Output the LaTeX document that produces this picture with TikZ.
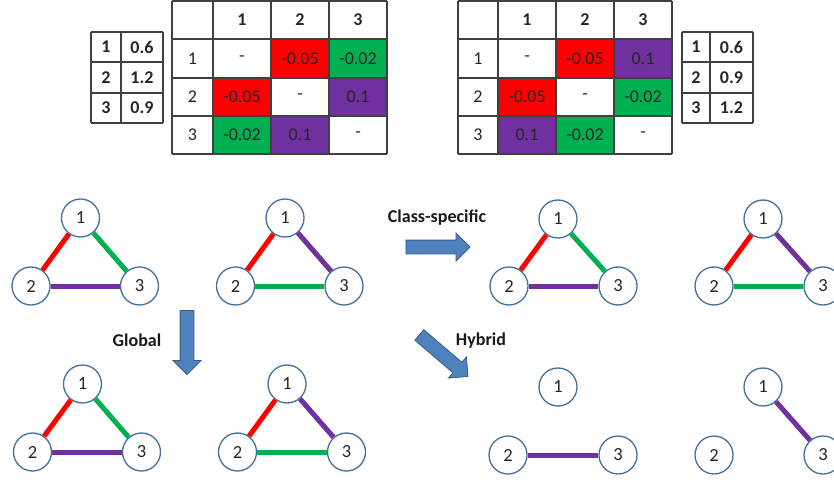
\documentclass[tikz,border=0pt]{standalone}
\usepackage{fontspec}
\setmainfont{Carlito}
\usetikzlibrary{shapes.arrows}
\definecolor{cred}{HTML}{FF0000}
\definecolor{cgreen}{HTML}{00B050}
\definecolor{cpurple}{HTML}{7030A0}
\definecolor{nodeblue}{HTML}{41719C}
\definecolor{arrowfill}{HTML}{4F81BD}
\definecolor{arrowline}{HTML}{385D8A}
\definecolor{gridc}{HTML}{404040}
\begin{document}
\begin{tikzpicture}[x=1pt,y=-1pt,
  vert/.style={circle,draw=nodeblue,line width=1.3pt,fill=white,minimum size=38pt,inner sep=0pt,font=\fontsize{18.5}{20}\selectfont,text=black!85},
  eR/.style={cred,line width=5pt},
  eG/.style={cgreen,line width=5pt},
  eP/.style={cpurple,line width=5pt},
  gridline/.style={gridc,line width=1.2pt},
  cell/.style={inner sep=0pt,font=\fontsize{18}{20}\selectfont,text=black!85},
  hcell/.style={inner sep=0pt,font=\fontsize{18}{20}\selectfont\bfseries,text=black!85},
  blockarrow/.style={single arrow,draw=arrowline,fill=arrowfill,line width=0.8pt,inner xsep=0pt,inner ysep=6.5pt,single arrow head extend=7pt,minimum height=64pt},
  lbl/.style={inner sep=0pt,font=\fontsize{18}{20}\selectfont\bfseries,text=black!90}
]
\clip (0,0) rectangle (834,481);
\fill[white] (0,0) rectangle (834,481);

% ---------- left matrix ----------
\fill[cred] (271,39) rectangle (329,78);
\fill[cgreen] (329,39) rectangle (387,78);
\fill[cred] (213,78) rectangle (271,116);
\fill[cpurple] (329,78) rectangle (387,116);
\fill[cgreen] (213,116) rectangle (271,154);
\fill[cpurple] (271,116) rectangle (329,154);
\foreach \xx in {172,213,271,329,387} \draw[gridline] (\xx,1) -- (\xx,154);
\foreach \yy in {1,39,78,116,154} \draw[gridline] (172,\yy) -- (387,\yy);

\node[hcell] (LH1) at (242,20) {1};
\node[hcell] (LH2) at (300,20) {2};
\node[hcell] (LH3) at (358,20) {3};
\node[cell] (LR1) at (192.5,58.5) {1};
\node[cell] (LR2) at (192.5,97) {2};
\node[cell] (LR3) at (192.5,135) {3};
\node[cell] (L11) at (242,58.5) {-};
\node[cell] (L12) at (300,58.5) {-0.05};
\node[cell] (L13) at (358,58.5) {-0.02};
\node[cell] (L21) at (242,97) {-0.05};
\node[cell] (L22) at (300,97) {-};
\node[cell] (L23) at (358,97) {0.1};
\node[cell] (L31) at (242,135) {-0.02};
\node[cell] (L32) at (300,135) {0.1};
\node[cell] (L33) at (358,135) {-};

% ---------- right matrix ----------
\fill[cred] (556,39) rectangle (614,78);
\fill[cpurple] (614,39) rectangle (672,78);
\fill[cred] (498,78) rectangle (556,116);
\fill[cgreen] (614,78) rectangle (672,116);
\fill[cpurple] (498,116) rectangle (556,154);
\fill[cgreen] (556,116) rectangle (614,154);
\foreach \xx in {458,498,556,614,672} \draw[gridline] (\xx,1) -- (\xx,154);
\foreach \yy in {1,39,78,116,154} \draw[gridline] (458,\yy) -- (672,\yy);

\node[hcell] (RH1) at (527,20) {1};
\node[hcell] (RH2) at (585,20) {2};
\node[hcell] (RH3) at (643,20) {3};
\node[cell] (RR1) at (478,58.5) {1};
\node[cell] (RR2) at (478,97) {2};
\node[cell] (RR3) at (478,135) {3};
\node[cell] (R11) at (527,58.5) {-};
\node[cell] (R12) at (585,58.5) {-0.05};
\node[cell] (R13) at (643,58.5) {0.1};
\node[cell] (R21) at (527,97) {-0.05};
\node[cell] (R22) at (585,97) {-};
\node[cell] (R23) at (643,97) {-0.02};
\node[cell] (R31) at (527,135) {0.1};
\node[cell] (R32) at (585,135) {-0.02};
\node[cell] (R33) at (643,135) {-};

% ---------- small tables ----------
\foreach \xx in {91,121,163} \draw[gridline] (\xx,32) -- (\xx,123);
\foreach \yy in {32,62,93,123} \draw[gridline] (91,\yy) -- (163,\yy);
\node[hcell] (SLa1) at (106,47) {1};
\node[hcell] (SLa2) at (106,77.5) {2};
\node[hcell] (SLa3) at (106,108) {3};
\node[hcell] (SLb1) at (142,47) {0.6};
\node[hcell] (SLb2) at (142,77.5) {1.2};
\node[hcell] (SLb3) at (142,108) {0.9};

\foreach \xx in {682,710,753} \draw[gridline] (\xx,32) -- (\xx,123);
\foreach \yy in {32,62,93,123} \draw[gridline] (682,\yy) -- (753,\yy);
\node[hcell] (SRa1) at (696,47) {1};
\node[hcell] (SRa2) at (696,77.5) {2};
\node[hcell] (SRa3) at (696,108) {3};
\node[hcell] (SRb1) at (731.5,47) {0.6};
\node[hcell] (SRb2) at (731.5,77.5) {0.9};
\node[hcell] (SRb3) at (731.5,108) {1.2};

% ---------- graphs, top row ----------
\node[vert] (a1) at (80.5,218) {1};
\node[vert] (a2) at (31,286) {2};
\node[vert] (a3) at (139.5,286) {3};
\draw[eR] (a1) -- (a2); \draw[eG] (a1) -- (a3); \draw[eP] (a2) -- (a3);

\node[vert] (b1) at (285,218) {1};
\node[vert] (b2) at (235.5,286) {2};
\node[vert] (b3) at (344,286) {3};
\draw[eR] (b1) -- (b2); \draw[eP] (b1) -- (b3); \draw[eG] (b2) -- (b3);

\node[vert] (c1) at (558,219) {1};
\node[vert] (c2) at (509,286) {2};
\node[vert] (c3) at (618,286) {3};
\draw[eR] (c1) -- (c2); \draw[eG] (c1) -- (c3); \draw[eP] (c2) -- (c3);

\node[vert] (d1) at (763,219) {1};
\node[vert] (d2) at (714,286) {2};
\node[vert] (d3) at (823,286) {3};
\draw[eR] (d1) -- (d2); \draw[eP] (d1) -- (d3); \draw[eG] (d2) -- (d3);

% ---------- graphs, bottom row ----------
\node[vert] (e1) at (82.5,384) {1};
\node[vert] (e2) at (32.5,452) {2};
\node[vert] (e3) at (141.5,452) {3};
\draw[eR] (e1) -- (e2); \draw[eG] (e1) -- (e3); \draw[eP] (e2) -- (e3);

\node[vert] (f1) at (287,384) {1};
\node[vert] (f2) at (237.5,452) {2};
\node[vert] (f3) at (346.5,452) {3};
\draw[eR] (f1) -- (f2); \draw[eP] (f1) -- (f3); \draw[eG] (f2) -- (f3);

\node[vert] (g1) at (558,387) {1};
\node[vert] (g2) at (508,455) {2};
\node[vert] (g3) at (618,455) {3};
\draw[eP] (g2) -- (g3);

\node[vert] (h1) at (763,387) {1};
\node[vert] (h2) at (714,455) {2};
\node[vert] (h3) at (823,455) {3};
\draw[eP] (h1) -- (h3);

% ---------- block arrows and labels ----------
\node[blockarrow] (arCS) at (434.5,247) {};
\node[blockarrow,rotate=-90] (arGl) at (187,339) {};
\node[blockarrow,rotate=-40.5] (arHy) at (441,353.5) {};
\node[lbl] (tCS) at (437,218) {Class-specific};
\node[lbl] (tGl) at (137,340) {Global};
\node[lbl] (tHy) at (481,341) {Hybrid};
\end{tikzpicture}
\end{document}
